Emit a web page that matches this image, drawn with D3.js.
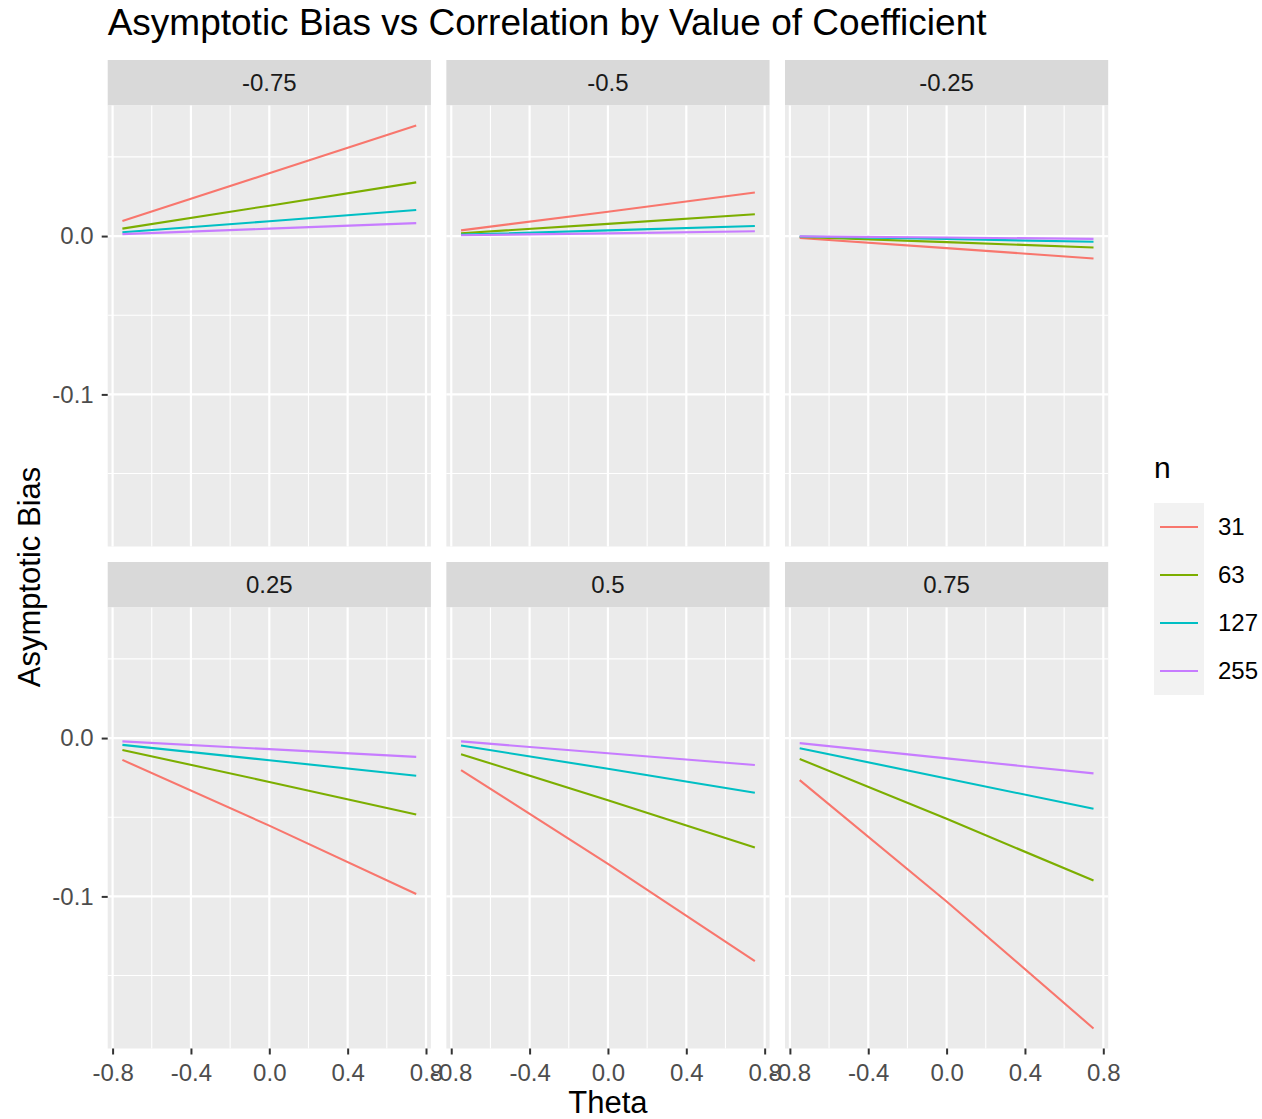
<!DOCTYPE html>
<html>
<head>
<meta charset="utf-8">
<script src="https://cdn.jsdelivr.net/npm/d3@7"></script>
<style>
  body { margin: 0; background: #fff; }
  svg { font-family: "Liberation Sans", Arial, Helvetica, sans-serif; }
</style>
</head>
<body>
<div id="chart"></div>
<script>
// facet values (value of coefficient) and sample sizes
const coefficients = [-0.75, -0.5, -0.25, 0.25, 0.5, 0.75];
const facetLabels = ["-0.75", "-0.5", "-0.25", "0.25", "0.5", "0.75"];
const nValues = [31, 63, 127, 255];
const nColors = ["#F8766D", "#7CAE00", "#00BFC4", "#C77CFF"];
const theta = [-0.75, 0, 0.75];

// asymptotic bias, one row per facet, values at theta
const bias31 = [
  [0.0095, 0.0396, 0.0698],
  [0.0036, 0.0154, 0.0275],
  [-0.0012, -0.0076, -0.0142],
  [-0.0138, -0.0553, -0.0985],
  [-0.0202, -0.0795, -0.1408],
  [-0.0266, -0.1032, -0.1834]
];
const bias63 = [
  [0.0047, 0.0192, 0.0339],
  [0.0018, 0.0077, 0.0138],
  [-0.0006, -0.0038, -0.0072],
  [-0.0075, -0.0277, -0.0483],
  [-0.0102, -0.0392, -0.0691],
  [-0.0132, -0.0510, -0.0900]
];
const bias127 = [
  [0.0024, 0.0094, 0.0165],
  [0.0009, 0.0036, 0.0064],
  [-0.0003, -0.0019, -0.0036],
  [-0.0043, -0.0140, -0.0238],
  [-0.0047, -0.0194, -0.0345],
  [-0.0064, -0.0255, -0.0447]
];
const bias255 = [
  [0.0012, 0.0047, 0.0082],
  [0.0005, 0.0017, 0.0030],
  [-0.0002, -0.0009, -0.0018],
  [-0.0021, -0.0070, -0.0119],
  [-0.0021, -0.0096, -0.0170],
  [-0.0032, -0.0128, -0.0223]
];
const biasByN = [bias31, bias63, bias127, bias255];

const xTicks = [-0.8, -0.4, 0.0, 0.4, 0.8];
const xMinor = [-0.6, -0.2, 0.2, 0.6];
const yTicks = [0.0, -0.1];
const yMinor = [0.05, -0.05, -0.15];

const W = 1262, H = 1119;
const panelLeft = 107.7, panelW = 323.2, colStep = 338.65;
const stripTop = 60, stripH = 45.5, panelH = 441, rowStep = 502;

const svg = d3.select("#chart").append("svg")
  .attr("width", W)
  .attr("height", H);

// shared scales, expanded 5% like ggplot
const xExt = d3.extent(theta);
const xPad = (xExt[1] - xExt[0]) * 0.05;
const allVals = biasByN.flat(2);
const yExt = d3.extent(allVals);
const yPad = (yExt[1] - yExt[0]) * 0.05;

// plain hyphen for negatives, as R prints them
const tickFmt = d3.formatLocale({decimal: ".", thousands: ",", grouping: [3], currency: ["", ""], minus: "-"}).format(".1f");
const line = d3.line();

coefficients.forEach((c, fi) => {
  const col = fi % 3, row = Math.floor(fi / 3);
  const x0 = panelLeft + col * colStep;
  const sTop = stripTop + row * rowStep;
  const pTop = sTop + stripH;

  const x = d3.scaleLinear()
    .domain([xExt[0] - xPad, xExt[1] + xPad])
    .range([x0, x0 + panelW]);
  const y = d3.scaleLinear()
    .domain([yExt[0] - yPad, yExt[1] + yPad])
    .range([pTop + panelH, pTop]);

  const g = svg.append("g");

  // strip
  g.append("rect")
    .attr("x", x0).attr("y", sTop)
    .attr("width", panelW).attr("height", stripH)
    .attr("fill", "#D9D9D9");
  g.append("text")
    .attr("x", x0 + panelW / 2)
    .attr("y", sTop + stripH / 2)
    .attr("dy", "0.35em")
    .attr("text-anchor", "middle")
    .attr("font-size", 24)
    .attr("fill", "#1A1A1A")
    .text(facetLabels[fi]);

  // panel background
  g.append("rect")
    .attr("x", x0).attr("y", pTop)
    .attr("width", panelW).attr("height", panelH)
    .attr("fill", "#EBEBEB");

  // minor grid
  g.selectAll(".xminor").data(xMinor).enter().append("line")
    .attr("x1", d => x(d)).attr("x2", d => x(d))
    .attr("y1", pTop).attr("y2", pTop + panelH)
    .attr("stroke", "#fff").attr("stroke-width", 1.1);
  g.selectAll(".yminor").data(yMinor).enter().append("line")
    .attr("x1", x0).attr("x2", x0 + panelW)
    .attr("y1", d => y(d)).attr("y2", d => y(d))
    .attr("stroke", "#fff").attr("stroke-width", 1.1);

  // major grid
  g.selectAll(".xmajor").data(xTicks).enter().append("line")
    .attr("x1", d => x(d)).attr("x2", d => x(d))
    .attr("y1", pTop).attr("y2", pTop + panelH)
    .attr("stroke", "#fff").attr("stroke-width", 2.2);
  g.selectAll(".ymajor").data(yTicks).enter().append("line")
    .attr("x1", x0).attr("x2", x0 + panelW)
    .attr("y1", d => y(d)).attr("y2", d => y(d))
    .attr("stroke", "#fff").attr("stroke-width", 2.2);

  // lines per n
  nValues.forEach((n, ni) => {
    const pts = theta.map((t, k) => [x(t), y(biasByN[ni][fi][k])]);
    g.append("path")
      .attr("d", line(pts))
      .attr("fill", "none")
      .attr("stroke", nColors[ni])
      .attr("stroke-width", 2.1);
  });

  // y axis on first column
  if (col === 0) {
    const ya = svg.append("g")
      .attr("transform", `translate(${x0},0)`)
      .call(d3.axisLeft(y).tickValues(yTicks).tickFormat(tickFmt).tickSize(6).tickPadding(8));
    ya.select(".domain").remove();
    ya.selectAll(".tick line").attr("stroke", "#333333").attr("stroke-width", 2);
    ya.selectAll(".tick text").attr("fill", "#4D4D4D").attr("font-size", 24)
      .attr("font-family", null);
  }
  // x axis on bottom row
  if (row === 1) {
    const xa = svg.append("g")
      .attr("transform", `translate(0,${pTop + panelH})`)
      .call(d3.axisBottom(x).tickValues(xTicks).tickFormat(tickFmt).tickSize(6).tickPadding(9));
    xa.select(".domain").remove();
    xa.selectAll(".tick line").attr("stroke", "#333333").attr("stroke-width", 2);
    xa.selectAll(".tick text").attr("fill", "#4D4D4D").attr("font-size", 24)
      .attr("font-family", null);
  }
});

// title
svg.append("text")
  .attr("x", panelLeft)
  .attr("y", 35)
  .attr("font-size", 37)
  .attr("fill", "#000")
  .text("Asymptotic Bias vs Correlation by Value of Coefficient");

// axis titles
svg.append("text")
  .attr("x", panelLeft + (2 * colStep + panelW) / 2)
  .attr("y", 1113)
  .attr("text-anchor", "middle")
  .attr("font-size", 31)
  .attr("fill", "#000")
  .text("Theta");

svg.append("text")
  .attr("transform", `translate(40,${stripTop + stripH + (rowStep + panelH) / 2}) rotate(-90)`)
  .attr("text-anchor", "middle")
  .attr("font-size", 31)
  .attr("fill", "#000")
  .text("Asymptotic Bias");

// legend
const legX = 1154, legTop = 503, keyH = 48, keyW = 50;
const legY = d3.scaleBand().domain(nValues).range([legTop, legTop + keyH * nValues.length]);
const leg = svg.append("g");
leg.append("text")
  .attr("x", legX)
  .attr("y", 478)
  .attr("font-size", 30)
  .attr("fill", "#000")
  .text("n");
leg.append("rect")
  .attr("x", legX).attr("y", legTop)
  .attr("width", keyW).attr("height", keyH * nValues.length)
  .attr("fill", "#F2F2F2");
nValues.forEach((n, i) => {
  const cy = legY(n) + legY.bandwidth() / 2;
  leg.append("line")
    .attr("x1", legX + 6).attr("x2", legX + keyW - 6)
    .attr("y1", cy).attr("y2", cy)
    .attr("stroke", nColors[i]).attr("stroke-width", 2.1);
  leg.append("text")
    .attr("x", legX + keyW + 14)
    .attr("y", cy)
    .attr("dy", "0.35em")
    .attr("font-size", 24)
    .attr("fill", "#000")
    .text(n);
});
</script>
</body>
</html>
